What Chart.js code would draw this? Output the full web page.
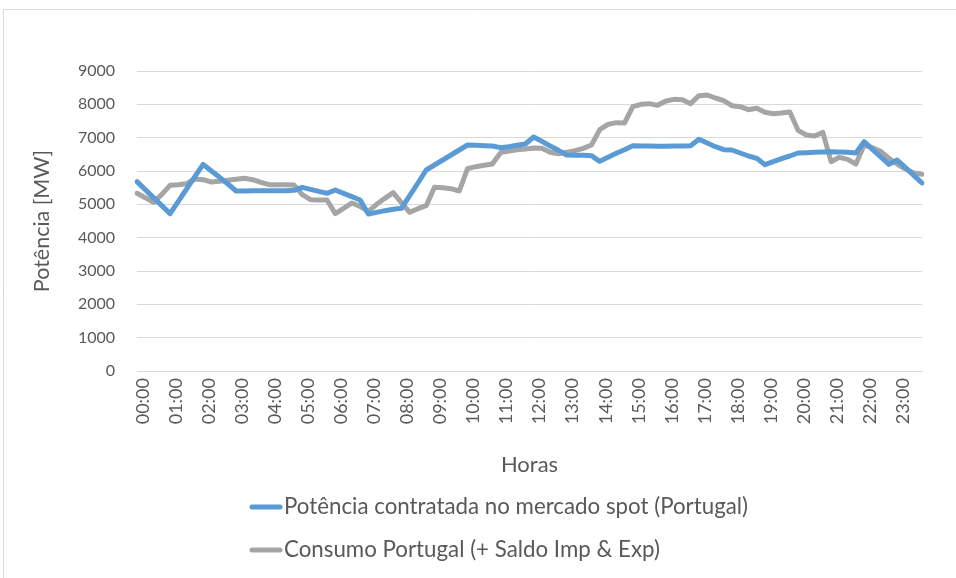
<!DOCTYPE html>
<html>
<head>
<meta charset="utf-8">
<script src="https://cdn.jsdelivr.net/npm/chart.js@4.4.1/dist/chart.umd.min.js"></script>
<style>
  html, body { margin: 0; padding: 0; background: #ffffff; }
  #wrap { position: relative; width: 956px; height: 578px; }
  canvas { display: block; }
</style>
</head>
<body>
<div id="wrap"><canvas id="chart" width="956" height="578"></canvas></div>
<script>
// Quarter-hour time slots along the horizontal axis
const timeSlots = [
  '00:00','00:15','00:30','00:45','01:00','01:15','01:30','01:45',
  '02:00','02:15','02:30','02:45','03:00','03:15','03:30','03:45',
  '04:00','04:15','04:30','04:45','05:00','05:15','05:30','05:45',
  '06:00','06:15','06:30','06:45','07:00','07:15','07:30','07:45',
  '08:00','08:15','08:30','08:45','09:00','09:15','09:30','09:45',
  '10:00','10:15','10:30','10:45','11:00','11:15','11:30','11:45',
  '12:00','12:15','12:30','12:45','13:00','13:15','13:30','13:45',
  '14:00','14:15','14:30','14:45','15:00','15:15','15:30','15:45',
  '16:00','16:15','16:30','16:45','17:00','17:15','17:30','17:45',
  '18:00','18:15','18:30','18:45','19:00','19:15','19:30','19:45',
  '20:00','20:15','20:30','20:45','21:00','21:15','21:30','21:45',
  '22:00','22:15','22:30','22:45','23:00','23:15','23:30','23:45'
];

// Hour labels shown on the axis
const hourTicks = [
  '00:00','01:00','02:00','03:00','04:00','05:00','06:00','07:00',
  '08:00','09:00','10:00','11:00','12:00','13:00','14:00','15:00',
  '16:00','17:00','18:00','19:00','20:00','21:00','22:00','23:00'
];

// Power contracted on the spot market (MW)
const spotPower = [
  5680, 5440, 5200, 4960, 4720, 5090, 5460, 5830,
  6200, 6000, 5810, 5610, 5400, 5400, 5410, 5410,
  5410, 5410, 5410, 5420, 5510, 5450, 5390, 5330,
  5430, 5330, 5230, 5130, 4710, 4760, 4810, 4850,
  4880, 5260, 5640, 6030, 6180, 6330, 6480, 6630,
  6780, 6770, 6760, 6750, 6700, 6730, 6770, 6810,
  7020, 6890, 6750, 6620, 6480, 6470, 6470, 6460,
  6290, 6410, 6530, 6640, 6760, 6750, 6750, 6740,
  6740, 6750, 6750, 6760, 6950, 6840, 6730, 6640,
  6630, 6540, 6450, 6380, 6190, 6280, 6370, 6450,
  6540, 6550, 6560, 6570, 6580, 6570, 6560, 6540,
  6880, 6650, 6420, 6200, 6330, 6100, 5870, 5640
];

// Consumption in Portugal including import/export balance (MW)
const consumption = [
  5330, 5200, 5060, 5300, 5570, 5590, 5620, 5760,
  5740, 5670, 5690, 5720, 5750, 5780, 5740, 5660,
  5590, 5590, 5590, 5580, 5290, 5140, 5130, 5130,
  4720, 4880, 5040, 4940, 4790, 5000, 5180, 5350,
  5050, 4760, 4870, 4960, 5510, 5500, 5470, 5400,
  6070, 6130, 6170, 6210, 6550, 6600, 6640, 6660,
  6690, 6680, 6560, 6520, 6560, 6610, 6680, 6780,
  7240, 7400, 7450, 7440, 7930, 8000, 8020, 7970,
  8100, 8150, 8140, 8020, 8260, 8280, 8190, 8110,
  7960, 7930, 7840, 7880, 7760, 7720, 7740, 7770,
  7220, 7080, 7050, 7160, 6280, 6410, 6350, 6210,
  6780, 6700, 6590, 6380, 6210, 6060, 5940, 5900
];

const seriesNames = [
  'Potência contratada no mercado spot (Portugal)',
  'Consumo Portugal (+ Saldo Imp & Exp)'
];

const textColor = '#595959';
const gridColor = '#d9d9d9';
const fontFamily = 'Lato, "Open Sans", sans-serif';

// White background and the outer frame of the chart
const frame = {
  id: 'frame',
  beforeDraw(chart) {
    const ctx = chart.ctx;
    ctx.save();
    ctx.fillStyle = '#ffffff';
    ctx.fillRect(0, 0, chart.width, chart.height);
    ctx.strokeStyle = gridColor;
    ctx.lineWidth = 1;
    ctx.beginPath();
    ctx.moveTo(3.5, chart.height);
    ctx.lineTo(3.5, 9.5);
    ctx.lineTo(chart.width, 9.5);
    ctx.stroke();
    ctx.restore();
  }
};

// Legend stacked in two rows below the axis title
const stackedLegend = {
  id: 'stackedLegend',
  afterDraw(chart) {
    const ctx = chart.ctx;
    const rows = [507, 550];
    ctx.save();
    ctx.font = '22.3px ' + fontFamily;
    ctx.textBaseline = 'middle';
    ctx.textAlign = 'left';
    chart.data.datasets.forEach((ds, i) => {
      const y = rows[i];
      ctx.strokeStyle = ds.borderColor;
      ctx.lineWidth = 5;
      ctx.lineCap = 'round';
      ctx.beginPath();
      ctx.moveTo(252, y);
      ctx.lineTo(280, y);
      ctx.stroke();
      ctx.fillStyle = textColor;
      ctx.fillText(ds.label, 284, y);
    });
    ctx.restore();
  }
};

new Chart(document.getElementById('chart'), {
  type: 'line',
  data: {
    labels: timeSlots,
    datasets: [
      {
        label: seriesNames[0],
        data: spotPower,
        borderColor: '#5b9bd5',
        backgroundColor: '#5b9bd5',
        borderWidth: 5,
        pointRadius: 0,
        tension: 0,
        borderJoinStyle: 'round',
        borderCapStyle: 'round'
      },
      {
        label: seriesNames[1],
        data: consumption,
        borderColor: '#a5a5a5',
        backgroundColor: '#a5a5a5',
        borderWidth: 5,
        pointRadius: 0,
        tension: 0,
        borderJoinStyle: 'round',
        borderCapStyle: 'round'
      }
    ]
  },
  options: {
    responsive: false,
    animation: false,
    devicePixelRatio: 1,
    layout: { padding: { top: 71, right: 34, bottom: 100, left: 0 } },
    plugins: {
      legend: { display: false },
      tooltip: { enabled: false }
    },
    scales: {
      x: {
        type: 'category',
        offset: false,
        grid: { display: false, drawTicks: false },
        border: { display: true, color: gridColor, width: 1 },
        ticks: {
          autoSkip: false,
          maxRotation: 90,
          minRotation: 90,
          padding: 7,
          labelOffset: 6,
          color: textColor,
          font: { family: fontFamily, size: 18 },
          callback: (value, index) => {
            const label = timeSlots[index];
            return hourTicks.includes(label) ? label : null;
          }
        },
        title: {
          display: true,
          text: 'Horas',
          color: textColor,
          font: { family: fontFamily, size: 22 },
          padding: { top: 0, bottom: 0 }
        },
        afterFit: (scale) => { scale.height = 107; }
      },
      y: {
        min: 0,
        max: 9000,
        grid: { color: gridColor, lineWidth: 1, drawTicks: false },
        border: { display: false },
        ticks: {
          stepSize: 1000,
          padding: 22,
          color: textColor,
          font: { family: fontFamily, size: 16 },
          callback: (value) => String(value)
        },
        title: {
          display: true,
          text: 'Potência [MW]',
          color: textColor,
          font: { family: fontFamily, size: 21.5 },
          padding: { top: 29, bottom: 0 }
        },
        afterFit: (scale) => { scale.width = 137; }
      }
    }
  },
  plugins: [frame, stackedLegend]
});
</script>
</body>
</html>
